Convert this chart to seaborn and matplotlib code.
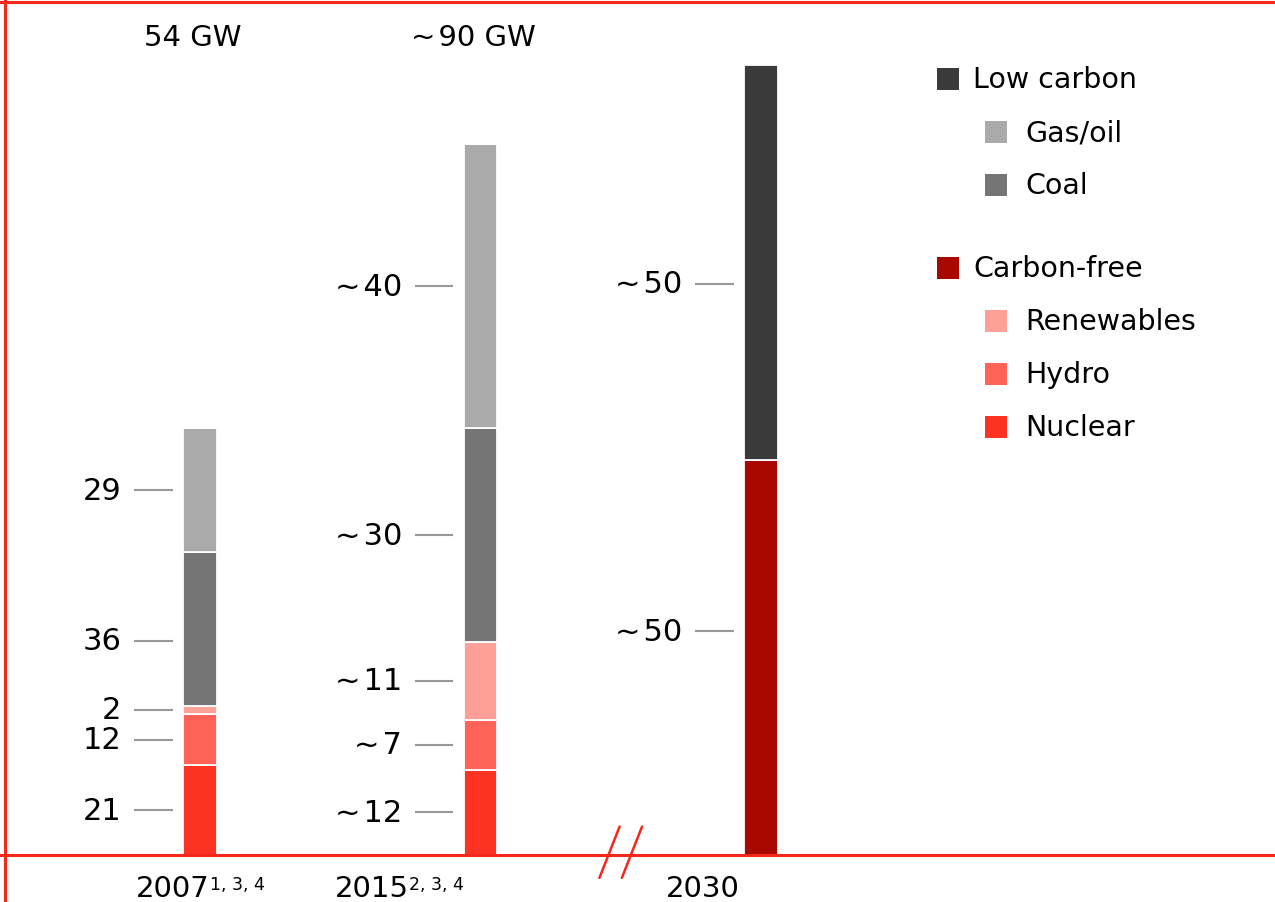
import numpy as np
import matplotlib.pyplot as plt
import seaborn as sns
from matplotlib.patches import Rectangle
from matplotlib.lines import Line2D

sns.set_theme(style="white")
plt.rcParams['font.family'] = ['DejaVu Sans']

# Data
years = ["2007", "2015", "2030"]
totals_gw = [54, 90, 100]
total_labels = ["54 GW", "~\u200a90 GW", ""]
year_notes = ["1, 3, 4", "2, 3, 4", ""]
approx = [False, True, True]

sources = ["Nuclear", "Hydro", "Renewables", "Carbon-free", "Coal", "Gas/oil", "Low carbon"]
share_2007 = [21, 12, 2, 0, 36, 29, 0]
share_2015 = [12, 7, 11, 0, 30, 40, 0]
share_2030 = [0, 0, 0, 50, 0, 0, 50]

colors = {
    "Nuclear": "#fc3323",
    "Hydro": "#ff6358",
    "Renewables": "#ffa098",
    "Carbon-free": "#a80800",
    "Coal": "#757575",
    "Gas/oil": "#aaaaaa",
    "Low carbon": "#3a3a3a",
}
legend_items = [("Low carbon", 0), ("Gas/oil", 1), ("Coal", 1),
                ("Carbon-free", 0), ("Renewables", 1), ("Hydro", 1), ("Nuclear", 1)]

# label nudges (GW) where the source chart moves a label off the segment middle
label_nudge = {(0, "Coal"): -1.5, (2, "Low carbon"): -2.7, (2, "Carbon-free"): 3.3}

frame_red = "#f5281c"
W, H = 1275, 903

shares = np.array([share_2007, share_2015, share_2030], dtype=float)  # year x source
heights = shares * np.array(totals_gw)[:, None] / 100.0
bottoms = np.cumsum(heights, axis=1) - heights

fig = plt.figure(figsize=(W / 100, H / 100), dpi=100)
ax = fig.add_axes([0, 0, 1, 1])

bar_w = 0.12
for j, src in enumerate(sources):
    sns.barplot(x=years, y=heights[:, j], order=years, bottom=bottoms[:, j],
                width=bar_w, color=colors[src], saturation=1, errorbar=None,
                edgecolor="white", linewidth=1.3, ax=ax)

# segment value labels with leader ticks
for i in range(len(years)):
    for j, src in enumerate(sources):
        if shares[i, j] <= 0:
            continue
        ymid = bottoms[i, j] + heights[i, j] / 2 + label_nudge.get((i, src), 0)
        ax.plot([i - 0.235, i - 0.097], [ymid, ymid], color="#999999", lw=1.5,
                solid_capstyle="butt")
        txt = f"{shares[i, j]:.0f}"
        if approx[i]:
            txt = "~\u200a" + txt
        ax.text(i - 0.28, ymid, txt, ha="right", va="center", fontsize=22, color="black")

# totals on top
for i, lab in enumerate(total_labels):
    if lab:
        ax.text(i - 0.025, 103.6, lab, ha="center", va="center", fontsize=21, color="black")

# year labels with superscript notes
year_label_dx = [-0.23, -0.52, -0.34]
for i, yr in enumerate(years):
    t = ax.text(i + year_label_dx[i], -5.2, yr, ha="left", va="baseline",
                fontsize=21, color="black")
    if year_notes[i]:
        ax.annotate(year_notes[i], xy=(1, 0.95), xycoords=t, xytext=(0.5, 0),
                    textcoords="offset points", ha="left", va="top",
                    fontsize=12.5, color="black")

# baseline, axis break
ax.axhline(0, color=frame_red, lw=2.2, zorder=5)
for xc in (1.46, 1.54):
    ax.plot([xc - 0.036, xc + 0.036], [-2.9, 3.6], color=frame_red, lw=1.8, zorder=6)

ax.set_xlim(-200 / 280.5, 1075 / 280.5)
ax.set_ylim(-47 / 7.9, 856 / 7.9)
ax.set_axis_off()

# frame (left and top)
fig.add_artist(Line2D([5 / W, 5 / W], [0, 1], color=frame_red, lw=2.2))
fig.add_artist(Line2D([0, 1], [1 - 2.5 / H, 1 - 2.5 / H], color=frame_red, lw=2.2))

# legend
y_px = 80
for k, (name, indent) in enumerate(legend_items):
    if k > 0:
        y_px += 53
        if indent == 0:
            y_px += 30
    sq_x = 937 if indent == 0 else 985
    txt_x = 973 if indent == 0 else 1025
    fig.add_artist(Rectangle((sq_x / W, 1 - (y_px + 11) / H), 22 / W, 22 / H,
                             transform=fig.transFigure, color=colors[name], lw=0))
    fig.text(txt_x / W, 1 - y_px / H, name, ha="left", va="center", fontsize=20.5, color="black")

fig.savefig("out.png", dpi=100)
